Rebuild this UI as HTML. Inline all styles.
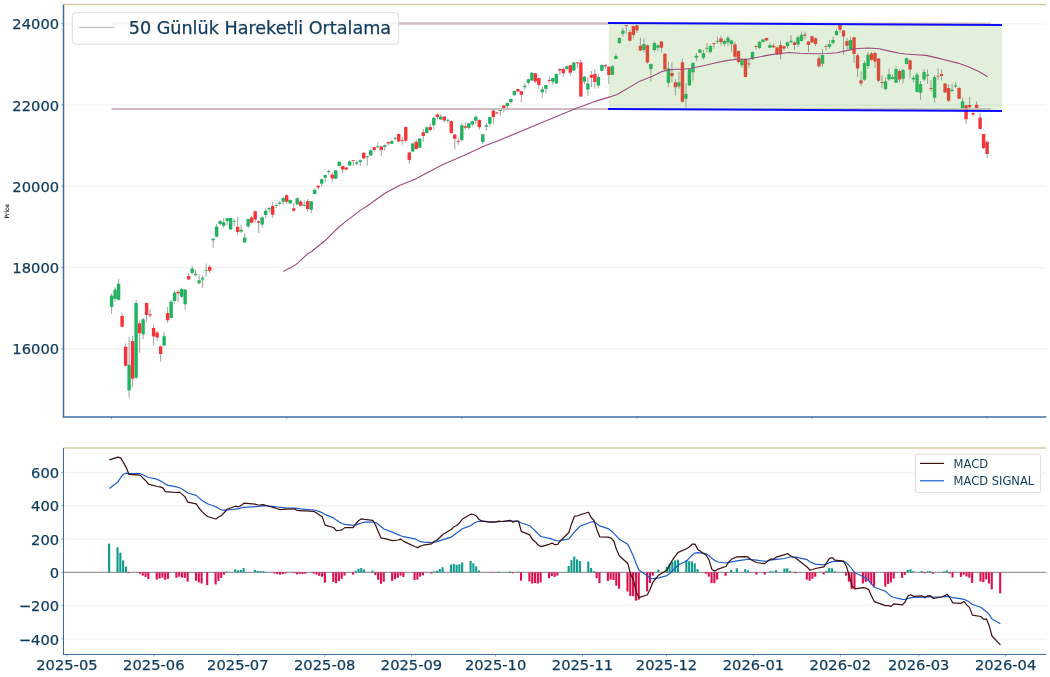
<!DOCTYPE html>
<html lang="tr">
<head>
<meta charset="utf-8">
<title>50 Günlük Hareketli Ortalama</title>
<style>
html,body{margin:0;padding:0;background:#fff;}
body{width:1050px;height:677px;overflow:hidden;font-family:"DejaVu Sans","Liberation Sans",sans-serif;}
svg{display:block;}
</style>
</head>
<body>
<svg width="1050" height="677" viewBox="0 0 1050 677" font-family="'DejaVu Sans', 'Liberation Sans', sans-serif">
<rect width="1050" height="677" fill="#fff"/>
<g id="grid1" stroke="#f4f4f4" stroke-width="1.5">
<line x1="63.5" x2="1046.3" y1="23.7" y2="23.7"/>
<line x1="63.5" x2="1046.3" y1="104.9" y2="104.9"/>
<line x1="63.5" x2="1046.3" y1="186.2" y2="186.2"/>
<line x1="63.5" x2="1046.3" y1="267.5" y2="267.5"/>
<line x1="63.5" x2="1046.3" y1="348.8" y2="348.8"/>
</g>
<g id="wicks" stroke="#808080" stroke-width="0.75">
<line x1="111.60" x2="111.60" y1="293.4" y2="314.0"/>
<line x1="115.10" x2="115.10" y1="287.3" y2="301.9"/>
<line x1="118.60" x2="118.60" y1="279.0" y2="300.5"/>
<line x1="122.11" x2="122.11" y1="312.8" y2="327.4"/>
<line x1="125.61" x2="125.61" y1="343.5" y2="366.7"/>
<line x1="129.11" x2="129.11" y1="336.9" y2="397.8"/>
<line x1="132.61" x2="132.61" y1="335.7" y2="387.0"/>
<line x1="136.11" x2="136.11" y1="299.8" y2="378.5"/>
<line x1="139.62" x2="139.62" y1="320.3" y2="352.9"/>
<line x1="143.12" x2="143.12" y1="318.0" y2="339.2"/>
<line x1="146.62" x2="146.62" y1="302.4" y2="321.5"/>
<line x1="150.12" x2="150.12" y1="309.0" y2="318.0"/>
<line x1="153.62" x2="153.62" y1="324.4" y2="345.6"/>
<line x1="157.13" x2="157.13" y1="331.0" y2="341.1"/>
<line x1="160.63" x2="160.63" y1="345.6" y2="361.7"/>
<line x1="164.13" x2="164.13" y1="332.2" y2="346.3"/>
<line x1="167.63" x2="167.63" y1="306.9" y2="323.2"/>
<line x1="171.13" x2="171.13" y1="300.3" y2="318.4"/>
<line x1="174.64" x2="174.64" y1="290.8" y2="303.8"/>
<line x1="178.14" x2="178.14" y1="289.6" y2="301.9"/>
<line x1="181.64" x2="181.64" y1="287.7" y2="297.9"/>
<line x1="185.14" x2="185.14" y1="289.1" y2="309.7"/>
<line x1="188.64" x2="188.64" y1="273.1" y2="280.2"/>
<line x1="192.15" x2="192.15" y1="265.5" y2="274.3"/>
<line x1="195.65" x2="195.65" y1="269.5" y2="275.9"/>
<line x1="199.15" x2="199.15" y1="274.5" y2="284.2"/>
<line x1="202.65" x2="202.65" y1="275.4" y2="288.0"/>
<line x1="206.15" x2="206.15" y1="263.6" y2="276.6"/>
<line x1="209.66" x2="209.66" y1="264.8" y2="273.1"/>
<line x1="213.16" x2="213.16" y1="238.2" y2="247.9"/>
<line x1="216.66" x2="216.66" y1="224.0" y2="237.1"/>
<line x1="220.16" x2="220.16" y1="220.2" y2="225.6"/>
<line x1="223.66" x2="223.66" y1="218.3" y2="227.9"/>
<line x1="227.17" x2="227.17" y1="218.1" y2="225.1"/>
<line x1="230.67" x2="230.67" y1="217.8" y2="229.8"/>
<line x1="234.17" x2="234.17" y1="218.8" y2="226.1"/>
<line x1="237.67" x2="237.67" y1="217.0" y2="235.0"/>
<line x1="241.17" x2="241.17" y1="224.6" y2="233.2"/>
<line x1="244.68" x2="244.68" y1="233.3" y2="242.9"/>
<line x1="248.18" x2="248.18" y1="218.5" y2="228.2"/>
<line x1="251.68" x2="251.68" y1="215.7" y2="223.5"/>
<line x1="255.18" x2="255.18" y1="210.7" y2="222.5"/>
<line x1="258.68" x2="258.68" y1="220.4" y2="233.0"/>
<line x1="262.19" x2="262.19" y1="216.7" y2="227.5"/>
<line x1="265.69" x2="265.69" y1="208.3" y2="217.8"/>
<line x1="269.19" x2="269.19" y1="207.3" y2="212.0"/>
<line x1="272.69" x2="272.69" y1="202.0" y2="217.8"/>
<line x1="276.19" x2="276.19" y1="203.1" y2="208.0"/>
<line x1="279.70" x2="279.70" y1="201.0" y2="205.7"/>
<line x1="283.20" x2="283.20" y1="197.1" y2="204.7"/>
<line x1="286.70" x2="286.70" y1="194.4" y2="204.1"/>
<line x1="290.20" x2="290.20" y1="199.2" y2="203.9"/>
<line x1="293.70" x2="293.70" y1="203.1" y2="211.8"/>
<line x1="297.21" x2="297.21" y1="197.5" y2="204.7"/>
<line x1="300.71" x2="300.71" y1="200.3" y2="207.0"/>
<line x1="304.21" x2="304.21" y1="200.3" y2="206.6"/>
<line x1="307.71" x2="307.71" y1="198.9" y2="211.5"/>
<line x1="311.21" x2="311.21" y1="201.0" y2="213.3"/>
<line x1="314.72" x2="314.72" y1="188.7" y2="194.1"/>
<line x1="318.22" x2="318.22" y1="185.0" y2="189.2"/>
<line x1="321.72" x2="321.72" y1="178.4" y2="186.6"/>
<line x1="325.22" x2="325.22" y1="174.5" y2="182.1"/>
<line x1="328.72" x2="328.72" y1="169.6" y2="174.5"/>
<line x1="332.23" x2="332.23" y1="172.7" y2="181.5"/>
<line x1="335.73" x2="335.73" y1="170.0" y2="178.9"/>
<line x1="339.23" x2="339.23" y1="161.2" y2="166.5"/>
<line x1="342.73" x2="342.73" y1="165.6" y2="172.7"/>
<line x1="346.23" x2="346.23" y1="166.9" y2="170.3"/>
<line x1="349.74" x2="349.74" y1="160.2" y2="166.1"/>
<line x1="353.24" x2="353.24" y1="159.9" y2="165.8"/>
<line x1="356.74" x2="356.74" y1="160.6" y2="165.4"/>
<line x1="360.24" x2="360.24" y1="159.3" y2="166.1"/>
<line x1="363.74" x2="363.74" y1="152.2" y2="158.9"/>
<line x1="367.25" x2="367.25" y1="156.0" y2="165.6"/>
<line x1="370.75" x2="370.75" y1="149.4" y2="156.0"/>
<line x1="374.25" x2="374.25" y1="146.8" y2="151.5"/>
<line x1="377.75" x2="377.75" y1="142.6" y2="147.8"/>
<line x1="381.25" x2="381.25" y1="145.9" y2="155.7"/>
<line x1="384.76" x2="384.76" y1="144.5" y2="150.6"/>
<line x1="388.26" x2="388.26" y1="141.3" y2="145.7"/>
<line x1="391.76" x2="391.76" y1="139.5" y2="144.0"/>
<line x1="395.26" x2="395.26" y1="137.4" y2="140.3"/>
<line x1="398.76" x2="398.76" y1="133.4" y2="141.9"/>
<line x1="402.27" x2="402.27" y1="136.7" y2="144.8"/>
<line x1="405.77" x2="405.77" y1="126.4" y2="142.7"/>
<line x1="409.27" x2="409.27" y1="151.6" y2="163.6"/>
<line x1="412.77" x2="412.77" y1="142.7" y2="151.9"/>
<line x1="416.27" x2="416.27" y1="140.0" y2="149.7"/>
<line x1="419.78" x2="419.78" y1="138.0" y2="147.9"/>
<line x1="423.28" x2="423.28" y1="129.0" y2="141.8"/>
<line x1="426.78" x2="426.78" y1="126.4" y2="133.6"/>
<line x1="430.28" x2="430.28" y1="123.3" y2="131.1"/>
<line x1="433.78" x2="433.78" y1="117.2" y2="129.8"/>
<line x1="437.29" x2="437.29" y1="113.0" y2="119.3"/>
<line x1="440.79" x2="440.79" y1="114.4" y2="119.9"/>
<line x1="444.29" x2="444.29" y1="116.0" y2="122.8"/>
<line x1="447.79" x2="447.79" y1="119.1" y2="122.8"/>
<line x1="451.29" x2="451.29" y1="120.4" y2="134.0"/>
<line x1="454.80" x2="454.80" y1="134.0" y2="149.5"/>
<line x1="458.30" x2="458.30" y1="137.7" y2="144.8"/>
<line x1="461.80" x2="461.80" y1="123.3" y2="141.6"/>
<line x1="465.30" x2="465.30" y1="122.4" y2="129.6"/>
<line x1="468.80" x2="468.80" y1="122.8" y2="129.6"/>
<line x1="472.31" x2="472.31" y1="120.7" y2="126.2"/>
<line x1="475.81" x2="475.81" y1="115.4" y2="123.8"/>
<line x1="479.31" x2="479.31" y1="119.3" y2="129.6"/>
<line x1="482.81" x2="482.81" y1="133.8" y2="144.2"/>
<line x1="486.31" x2="486.31" y1="123.1" y2="130.6"/>
<line x1="489.82" x2="489.82" y1="116.5" y2="126.6"/>
<line x1="493.32" x2="493.32" y1="109.7" y2="123.8"/>
<line x1="496.82" x2="496.82" y1="111.8" y2="114.1"/>
<line x1="500.32" x2="500.32" y1="109.7" y2="115.8"/>
<line x1="503.82" x2="503.82" y1="105.0" y2="112.7"/>
<line x1="507.33" x2="507.33" y1="102.4" y2="108.5"/>
<line x1="510.83" x2="510.83" y1="98.4" y2="103.6"/>
<line x1="514.33" x2="514.33" y1="90.6" y2="95.6"/>
<line x1="517.83" x2="517.83" y1="88.6" y2="91.9"/>
<line x1="521.33" x2="521.33" y1="90.9" y2="102.4"/>
<line x1="524.84" x2="524.84" y1="83.3" y2="90.3"/>
<line x1="528.34" x2="528.34" y1="78.5" y2="84.6"/>
<line x1="531.84" x2="531.84" y1="72.2" y2="80.9"/>
<line x1="535.34" x2="535.34" y1="72.8" y2="83.0"/>
<line x1="538.84" x2="538.84" y1="77.4" y2="88.8"/>
<line x1="542.35" x2="542.35" y1="86.7" y2="97.4"/>
<line x1="545.85" x2="545.85" y1="84.6" y2="93.5"/>
<line x1="549.35" x2="549.35" y1="76.2" y2="83.0"/>
<line x1="552.85" x2="552.85" y1="77.4" y2="84.8"/>
<line x1="556.35" x2="556.35" y1="73.3" y2="84.0"/>
<line x1="559.86" x2="559.86" y1="68.3" y2="74.9"/>
<line x1="563.36" x2="563.36" y1="67.3" y2="76.7"/>
<line x1="566.86" x2="566.86" y1="65.5" y2="70.4"/>
<line x1="570.36" x2="570.36" y1="64.5" y2="75.7"/>
<line x1="573.86" x2="573.86" y1="62.0" y2="71.0"/>
<line x1="577.37" x2="577.37" y1="62.0" y2="68.3"/>
<line x1="580.87" x2="580.87" y1="59.4" y2="96.9"/>
<line x1="584.37" x2="584.37" y1="76.0" y2="84.4"/>
<line x1="587.87" x2="587.87" y1="77.4" y2="96.1"/>
<line x1="591.37" x2="591.37" y1="71.0" y2="87.2"/>
<line x1="594.88" x2="594.88" y1="69.1" y2="88.6"/>
<line x1="598.38" x2="598.38" y1="74.8" y2="88.4"/>
<line x1="601.88" x2="601.88" y1="63.7" y2="71.4"/>
<line x1="605.38" x2="605.38" y1="63.7" y2="68.4"/>
<line x1="608.88" x2="608.88" y1="65.9" y2="84.0"/>
<line x1="612.39" x2="612.39" y1="64.9" y2="75.2"/>
<line x1="615.89" x2="615.89" y1="53.8" y2="59.3"/>
<line x1="619.39" x2="619.39" y1="37.1" y2="44.1"/>
<line x1="622.89" x2="622.89" y1="28.0" y2="36.7"/>
<line x1="626.39" x2="626.39" y1="25.0" y2="33.5"/>
<line x1="629.90" x2="629.90" y1="29.8" y2="41.3"/>
<line x1="633.40" x2="633.40" y1="25.6" y2="38.6"/>
<line x1="636.90" x2="636.90" y1="25.0" y2="33.0"/>
<line x1="640.40" x2="640.40" y1="37.9" y2="51.2"/>
<line x1="643.90" x2="643.90" y1="38.6" y2="52.6"/>
<line x1="647.41" x2="647.41" y1="44.5" y2="63.7"/>
<line x1="650.91" x2="650.91" y1="63.4" y2="81.7"/>
<line x1="654.41" x2="654.41" y1="41.3" y2="52.2"/>
<line x1="657.91" x2="657.91" y1="44.5" y2="51.2"/>
<line x1="661.41" x2="661.41" y1="40.8" y2="52.6"/>
<line x1="664.92" x2="664.92" y1="53.1" y2="70.4"/>
<line x1="668.42" x2="668.42" y1="61.5" y2="87.1"/>
<line x1="671.92" x2="671.92" y1="62.5" y2="82.2"/>
<line x1="675.42" x2="675.42" y1="79.2" y2="95.5"/>
<line x1="678.92" x2="678.92" y1="71.8" y2="88.8"/>
<line x1="682.43" x2="682.43" y1="58.6" y2="102.8"/>
<line x1="685.93" x2="685.93" y1="83.2" y2="107.7"/>
<line x1="689.43" x2="689.43" y1="68.2" y2="85.9"/>
<line x1="692.93" x2="692.93" y1="62.0" y2="80.7"/>
<line x1="696.43" x2="696.43" y1="53.3" y2="61.1"/>
<line x1="699.94" x2="699.94" y1="49.1" y2="53.3"/>
<line x1="703.44" x2="703.44" y1="49.9" y2="59.8"/>
<line x1="706.94" x2="706.94" y1="43.3" y2="52.5"/>
<line x1="710.44" x2="710.44" y1="44.3" y2="53.3"/>
<line x1="713.94" x2="713.94" y1="42.8" y2="48.8"/>
<line x1="717.45" x2="717.45" y1="36.8" y2="43.9"/>
<line x1="720.95" x2="720.95" y1="36.2" y2="45.7"/>
<line x1="724.45" x2="724.45" y1="39.4" y2="46.2"/>
<line x1="727.95" x2="727.95" y1="35.9" y2="46.4"/>
<line x1="731.45" x2="731.45" y1="39.7" y2="52.0"/>
<line x1="734.96" x2="734.96" y1="42.0" y2="59.8"/>
<line x1="738.46" x2="738.46" y1="50.4" y2="63.5"/>
<line x1="741.96" x2="741.96" y1="57.9" y2="67.4"/>
<line x1="745.46" x2="745.46" y1="58.2" y2="77.1"/>
<line x1="748.96" x2="748.96" y1="59.8" y2="68.0"/>
<line x1="752.47" x2="752.47" y1="51.4" y2="59.8"/>
<line x1="755.97" x2="755.97" y1="45.7" y2="49.5"/>
<line x1="759.47" x2="759.47" y1="41.0" y2="48.8"/>
<line x1="762.97" x2="762.97" y1="38.9" y2="42.5"/>
<line x1="766.47" x2="766.47" y1="37.6" y2="41.0"/>
<line x1="769.98" x2="769.98" y1="42.8" y2="48.1"/>
<line x1="773.48" x2="773.48" y1="43.3" y2="47.8"/>
<line x1="776.98" x2="776.98" y1="46.7" y2="54.8"/>
<line x1="780.48" x2="780.48" y1="40.7" y2="59.3"/>
<line x1="783.98" x2="783.98" y1="45.7" y2="50.9"/>
<line x1="787.49" x2="787.49" y1="41.5" y2="48.5"/>
<line x1="790.99" x2="790.99" y1="35.2" y2="43.3"/>
<line x1="794.49" x2="794.49" y1="41.5" y2="49.9"/>
<line x1="797.99" x2="797.99" y1="35.5" y2="46.7"/>
<line x1="801.49" x2="801.49" y1="31.7" y2="41.5"/>
<line x1="805.00" x2="805.00" y1="31.5" y2="39.4"/>
<line x1="808.50" x2="808.50" y1="41.0" y2="52.0"/>
<line x1="812.00" x2="812.00" y1="35.5" y2="43.0"/>
<line x1="815.50" x2="815.50" y1="37.6" y2="46.0"/>
<line x1="819.00" x2="819.00" y1="55.1" y2="67.4"/>
<line x1="822.51" x2="822.51" y1="49.1" y2="66.9"/>
<line x1="826.01" x2="826.01" y1="44.3" y2="50.9"/>
<line x1="829.51" x2="829.51" y1="39.7" y2="48.8"/>
<line x1="833.01" x2="833.01" y1="36.8" y2="44.6"/>
<line x1="836.51" x2="836.51" y1="29.4" y2="35.9"/>
<line x1="840.02" x2="840.02" y1="24.7" y2="32.6"/>
<line x1="843.52" x2="843.52" y1="30.0" y2="54.8"/>
<line x1="847.02" x2="847.02" y1="38.0" y2="49.3"/>
<line x1="850.52" x2="850.52" y1="36.8" y2="49.9"/>
<line x1="854.02" x2="854.02" y1="36.6" y2="63.0"/>
<line x1="857.53" x2="857.53" y1="53.5" y2="77.1"/>
<line x1="861.03" x2="861.03" y1="71.3" y2="86.0"/>
<line x1="864.53" x2="864.53" y1="60.9" y2="80.8"/>
<line x1="868.03" x2="868.03" y1="52.0" y2="69.0"/>
<line x1="871.53" x2="871.53" y1="52.0" y2="60.6"/>
<line x1="875.04" x2="875.04" y1="51.4" y2="68.0"/>
<line x1="878.54" x2="878.54" y1="57.9" y2="82.3"/>
<line x1="882.04" x2="882.04" y1="75.3" y2="88.1"/>
<line x1="885.54" x2="885.54" y1="77.4" y2="90.4"/>
<line x1="889.04" x2="889.04" y1="68.7" y2="80.8"/>
<line x1="892.55" x2="892.55" y1="74.0" y2="79.9"/>
<line x1="896.05" x2="896.05" y1="66.2" y2="83.0"/>
<line x1="899.55" x2="899.55" y1="69.1" y2="82.5"/>
<line x1="903.05" x2="903.05" y1="68.6" y2="83.3"/>
<line x1="906.55" x2="906.55" y1="57.5" y2="64.5"/>
<line x1="910.06" x2="910.06" y1="59.6" y2="77.8"/>
<line x1="913.56" x2="913.56" y1="75.4" y2="82.7"/>
<line x1="917.06" x2="917.06" y1="72.5" y2="92.4"/>
<line x1="920.56" x2="920.56" y1="80.9" y2="99.8"/>
<line x1="924.06" x2="924.06" y1="69.1" y2="81.4"/>
<line x1="927.57" x2="927.57" y1="69.4" y2="84.0"/>
<line x1="931.07" x2="931.07" y1="80.2" y2="91.4"/>
<line x1="934.57" x2="934.57" y1="75.1" y2="102.4"/>
<line x1="938.07" x2="938.07" y1="68.3" y2="79.9"/>
<line x1="941.57" x2="941.57" y1="69.4" y2="80.4"/>
<line x1="945.08" x2="945.08" y1="83.0" y2="93.0"/>
<line x1="948.58" x2="948.58" y1="84.0" y2="101.9"/>
<line x1="952.08" x2="952.08" y1="83.7" y2="91.9"/>
<line x1="955.58" x2="955.58" y1="82.0" y2="88.2"/>
<line x1="959.08" x2="959.08" y1="86.5" y2="99.2"/>
<line x1="962.59" x2="962.59" y1="97.6" y2="108.4"/>
<line x1="966.09" x2="966.09" y1="104.8" y2="124.2"/>
<line x1="969.59" x2="969.59" y1="97.1" y2="108.2"/>
<line x1="973.09" x2="973.09" y1="112.1" y2="116.7"/>
<line x1="976.59" x2="976.59" y1="101.4" y2="108.2"/>
<line x1="980.10" x2="980.10" y1="112.8" y2="129.3"/>
<line x1="983.60" x2="983.60" y1="133.8" y2="149.0"/>
<line x1="987.10" x2="987.10" y1="140.3" y2="158.1"/>
</g>
<g id="bodies">
<rect x="109.90" y="295.50" width="3.4" height="11.40" rx="0.4" fill="#1fb35f"/>
<rect x="113.40" y="289.60" width="3.4" height="9.50" rx="0.4" fill="#1fb35f"/>
<rect x="116.90" y="283.70" width="3.4" height="16.10" rx="0.4" fill="#1fb35f"/>
<rect x="120.41" y="316.10" width="3.4" height="10.60" rx="0.4" fill="#f73338"/>
<rect x="123.91" y="346.80" width="3.4" height="18.90" rx="0.4" fill="#f73338"/>
<rect x="127.41" y="364.80" width="3.4" height="25.70" rx="0.4" fill="#1fb35f"/>
<rect x="130.91" y="341.10" width="3.4" height="37.60" rx="0.4" fill="#f73338"/>
<rect x="134.41" y="303.10" width="3.4" height="74.70" rx="0.4" fill="#1fb35f"/>
<rect x="137.92" y="323.20" width="3.4" height="10.10" rx="0.4" fill="#f73338"/>
<rect x="141.42" y="319.20" width="3.4" height="15.30" rx="0.4" fill="#1fb35f"/>
<rect x="144.92" y="303.10" width="3.4" height="12.00" rx="0.4" fill="#f73338"/>
<rect x="148.42" y="314.20" width="3.4" height="1.40" rx="0.4" fill="#f73338"/>
<rect x="151.92" y="328.10" width="3.4" height="8.30" rx="0.4" fill="#f73338"/>
<rect x="155.43" y="332.40" width="3.4" height="5.00" rx="0.4" fill="#f73338"/>
<rect x="158.93" y="346.30" width="3.4" height="7.80" rx="0.4" fill="#f73338"/>
<rect x="162.43" y="336.20" width="3.4" height="9.40" rx="0.4" fill="#1fb35f"/>
<rect x="165.93" y="313.00" width="3.4" height="7.30" rx="0.4" fill="#f73338"/>
<rect x="169.43" y="301.40" width="3.4" height="16.60" rx="0.4" fill="#1fb35f"/>
<rect x="172.94" y="292.50" width="3.4" height="8.50" rx="0.4" fill="#1fb35f"/>
<rect x="176.44" y="292.00" width="3.4" height="1.40" rx="0.4" fill="#f73338"/>
<rect x="179.94" y="289.10" width="3.4" height="7.60" rx="0.4" fill="#1fb35f"/>
<rect x="183.44" y="289.60" width="3.4" height="14.70" rx="0.4" fill="#1fb35f"/>
<rect x="186.94" y="275.90" width="3.4" height="3.60" rx="0.4" fill="#f73338"/>
<rect x="190.45" y="268.40" width="3.4" height="4.70" rx="0.4" fill="#1fb35f"/>
<rect x="193.95" y="273.80" width="3.4" height="1.40" rx="0.4" fill="#1fb35f"/>
<rect x="197.45" y="280.20" width="3.4" height="3.00" rx="0.4" fill="#1fb35f"/>
<rect x="200.95" y="277.80" width="3.4" height="1.70" rx="0.4" fill="#1fb35f"/>
<rect x="204.45" y="269.90" width="3.4" height="0.90" rx="0.4" fill="#1fb35f"/>
<rect x="207.96" y="266.70" width="3.4" height="4.00" rx="0.4" fill="#f73338"/>
<rect x="211.46" y="238.70" width="3.4" height="1.60" rx="0.4" fill="#1fb35f"/>
<rect x="214.96" y="226.40" width="3.4" height="10.40" rx="0.4" fill="#1fb35f"/>
<rect x="218.46" y="220.90" width="3.4" height="3.10" rx="0.4" fill="#1fb35f"/>
<rect x="221.96" y="222.30" width="3.4" height="3.50" rx="0.4" fill="#1fb35f"/>
<rect x="225.47" y="218.30" width="3.4" height="2.60" rx="0.4" fill="#1fb35f"/>
<rect x="228.97" y="218.10" width="3.4" height="11.50" rx="0.4" fill="#1fb35f"/>
<rect x="232.47" y="220.90" width="3.4" height="0.90" rx="0.4" fill="#1fb35f"/>
<rect x="235.97" y="226.70" width="3.4" height="5.20" rx="0.4" fill="#f73338"/>
<rect x="239.47" y="229.80" width="3.4" height="1.80" rx="0.4" fill="#1fb35f"/>
<rect x="242.98" y="237.40" width="3.4" height="5.20" rx="0.4" fill="#1fb35f"/>
<rect x="246.48" y="219.00" width="3.4" height="7.50" rx="0.4" fill="#1fb35f"/>
<rect x="249.98" y="217.40" width="3.4" height="5.40" rx="0.4" fill="#f73338"/>
<rect x="253.48" y="211.20" width="3.4" height="8.40" rx="0.4" fill="#f73338"/>
<rect x="256.98" y="221.20" width="3.4" height="1.50" rx="0.4" fill="#f73338"/>
<rect x="260.49" y="217.20" width="3.4" height="7.40" rx="0.4" fill="#1fb35f"/>
<rect x="263.99" y="210.70" width="3.4" height="4.40" rx="0.4" fill="#1fb35f"/>
<rect x="267.49" y="208.10" width="3.4" height="1.30" rx="0.4" fill="#1fb35f"/>
<rect x="270.99" y="205.90" width="3.4" height="8.90" rx="0.4" fill="#f73338"/>
<rect x="274.49" y="204.95" width="3.4" height="0.90" rx="0.4" fill="#1fb35f"/>
<rect x="278.00" y="202.60" width="3.4" height="1.20" rx="0.4" fill="#1fb35f"/>
<rect x="281.50" y="197.90" width="3.4" height="3.90" rx="0.4" fill="#1fb35f"/>
<rect x="285.00" y="195.20" width="3.4" height="6.50" rx="0.4" fill="#f73338"/>
<rect x="288.50" y="200.00" width="3.4" height="3.60" rx="0.4" fill="#1fb35f"/>
<rect x="292.00" y="208.30" width="3.4" height="2.40" rx="0.4" fill="#f73338"/>
<rect x="295.51" y="198.20" width="3.4" height="6.30" rx="0.4" fill="#1fb35f"/>
<rect x="299.01" y="201.50" width="3.4" height="4.20" rx="0.4" fill="#f73338"/>
<rect x="302.51" y="204.90" width="3.4" height="1.00" rx="0.4" fill="#1fb35f"/>
<rect x="306.01" y="201.00" width="3.4" height="7.90" rx="0.4" fill="#f73338"/>
<rect x="309.51" y="201.30" width="3.4" height="8.40" rx="0.4" fill="#1fb35f"/>
<rect x="313.02" y="189.70" width="3.4" height="4.20" rx="0.4" fill="#1fb35f"/>
<rect x="316.52" y="185.80" width="3.4" height="1.60" rx="0.4" fill="#f73338"/>
<rect x="320.02" y="179.20" width="3.4" height="4.50" rx="0.4" fill="#1fb35f"/>
<rect x="323.52" y="175.00" width="3.4" height="2.70" rx="0.4" fill="#1fb35f"/>
<rect x="327.02" y="171.00" width="3.4" height="0.90" rx="0.4" fill="#1fb35f"/>
<rect x="330.53" y="174.50" width="3.4" height="3.90" rx="0.4" fill="#f73338"/>
<rect x="334.03" y="170.30" width="3.4" height="8.40" rx="0.4" fill="#1fb35f"/>
<rect x="337.53" y="161.70" width="3.4" height="4.40" rx="0.4" fill="#1fb35f"/>
<rect x="341.03" y="166.10" width="3.4" height="3.50" rx="0.4" fill="#f73338"/>
<rect x="344.53" y="167.50" width="3.4" height="2.10" rx="0.4" fill="#f73338"/>
<rect x="348.04" y="161.40" width="3.4" height="4.00" rx="0.4" fill="#1fb35f"/>
<rect x="351.54" y="159.95" width="3.4" height="0.90" rx="0.4" fill="#f73338"/>
<rect x="355.04" y="162.30" width="3.4" height="1.40" rx="0.4" fill="#1fb35f"/>
<rect x="358.54" y="160.20" width="3.4" height="1.80" rx="0.4" fill="#1fb35f"/>
<rect x="362.04" y="152.80" width="3.4" height="5.80" rx="0.4" fill="#f73338"/>
<rect x="365.55" y="156.35" width="3.4" height="0.90" rx="0.4" fill="#1fb35f"/>
<rect x="369.05" y="150.20" width="3.4" height="5.30" rx="0.4" fill="#1fb35f"/>
<rect x="372.55" y="147.30" width="3.4" height="2.60" rx="0.4" fill="#f73338"/>
<rect x="376.05" y="146.20" width="3.4" height="1.10" rx="0.4" fill="#1fb35f"/>
<rect x="379.55" y="146.40" width="3.4" height="3.70" rx="0.4" fill="#f73338"/>
<rect x="383.06" y="144.90" width="3.4" height="1.90" rx="0.4" fill="#1fb35f"/>
<rect x="386.56" y="142.00" width="3.4" height="1.40" rx="0.4" fill="#f73338"/>
<rect x="390.06" y="141.10" width="3.4" height="2.60" rx="0.4" fill="#1fb35f"/>
<rect x="393.56" y="137.80" width="3.4" height="0.90" rx="0.4" fill="#1fb35f"/>
<rect x="397.06" y="134.00" width="3.4" height="7.60" rx="0.4" fill="#f73338"/>
<rect x="400.57" y="139.95" width="3.4" height="0.90" rx="0.4" fill="#f73338"/>
<rect x="404.07" y="127.00" width="3.4" height="13.80" rx="0.4" fill="#f73338"/>
<rect x="407.57" y="152.40" width="3.4" height="7.60" rx="0.4" fill="#f73338"/>
<rect x="411.07" y="143.40" width="3.4" height="8.20" rx="0.4" fill="#1fb35f"/>
<rect x="414.57" y="141.80" width="3.4" height="7.20" rx="0.4" fill="#f73338"/>
<rect x="418.08" y="138.50" width="3.4" height="9.20" rx="0.4" fill="#1fb35f"/>
<rect x="421.58" y="132.20" width="3.4" height="3.70" rx="0.4" fill="#f73338"/>
<rect x="425.08" y="127.20" width="3.4" height="5.70" rx="0.4" fill="#1fb35f"/>
<rect x="428.58" y="127.00" width="3.4" height="3.10" rx="0.4" fill="#f73338"/>
<rect x="432.08" y="117.80" width="3.4" height="7.40" rx="0.4" fill="#1fb35f"/>
<rect x="435.59" y="114.40" width="3.4" height="2.60" rx="0.4" fill="#f73338"/>
<rect x="439.09" y="116.50" width="3.4" height="3.10" rx="0.4" fill="#1fb35f"/>
<rect x="442.59" y="116.50" width="3.4" height="4.00" rx="0.4" fill="#f73338"/>
<rect x="446.09" y="119.80" width="3.4" height="0.90" rx="0.4" fill="#1fb35f"/>
<rect x="449.59" y="121.00" width="3.4" height="11.90" rx="0.4" fill="#f73338"/>
<rect x="453.10" y="134.60" width="3.4" height="4.20" rx="0.4" fill="#f73338"/>
<rect x="456.60" y="140.80" width="3.4" height="0.90" rx="0.4" fill="#f73338"/>
<rect x="460.10" y="125.20" width="3.4" height="14.80" rx="0.4" fill="#1fb35f"/>
<rect x="463.60" y="126.20" width="3.4" height="1.50" rx="0.4" fill="#f73338"/>
<rect x="467.10" y="123.30" width="3.4" height="4.70" rx="0.4" fill="#1fb35f"/>
<rect x="470.61" y="121.20" width="3.4" height="3.40" rx="0.4" fill="#1fb35f"/>
<rect x="474.11" y="116.70" width="3.4" height="4.00" rx="0.4" fill="#1fb35f"/>
<rect x="477.61" y="119.90" width="3.4" height="7.30" rx="0.4" fill="#f73338"/>
<rect x="481.11" y="134.30" width="3.4" height="7.80" rx="0.4" fill="#1fb35f"/>
<rect x="484.61" y="125.20" width="3.4" height="1.50" rx="0.4" fill="#1fb35f"/>
<rect x="488.12" y="117.00" width="3.4" height="6.80" rx="0.4" fill="#1fb35f"/>
<rect x="491.62" y="110.50" width="3.4" height="6.50" rx="0.4" fill="#f73338"/>
<rect x="495.12" y="112.50" width="3.4" height="0.90" rx="0.4" fill="#f73338"/>
<rect x="498.62" y="109.90" width="3.4" height="1.10" rx="0.4" fill="#1fb35f"/>
<rect x="502.12" y="105.50" width="3.4" height="2.60" rx="0.4" fill="#f73338"/>
<rect x="505.63" y="103.10" width="3.4" height="3.00" rx="0.4" fill="#1fb35f"/>
<rect x="509.13" y="99.00" width="3.4" height="3.10" rx="0.4" fill="#1fb35f"/>
<rect x="512.63" y="91.10" width="3.4" height="4.20" rx="0.4" fill="#1fb35f"/>
<rect x="516.13" y="89.00" width="3.4" height="2.40" rx="0.4" fill="#f73338"/>
<rect x="519.63" y="91.20" width="3.4" height="3.50" rx="0.4" fill="#f73338"/>
<rect x="523.14" y="85.80" width="3.4" height="1.40" rx="0.4" fill="#1fb35f"/>
<rect x="526.64" y="79.30" width="3.4" height="3.50" rx="0.4" fill="#1fb35f"/>
<rect x="530.14" y="72.80" width="3.4" height="7.80" rx="0.4" fill="#1fb35f"/>
<rect x="533.64" y="73.30" width="3.4" height="8.30" rx="0.4" fill="#f73338"/>
<rect x="537.14" y="78.10" width="3.4" height="6.80" rx="0.4" fill="#f73338"/>
<rect x="540.65" y="89.30" width="3.4" height="2.90" rx="0.4" fill="#1fb35f"/>
<rect x="544.15" y="85.10" width="3.4" height="3.90" rx="0.4" fill="#1fb35f"/>
<rect x="547.65" y="80.10" width="3.4" height="1.00" rx="0.4" fill="#f73338"/>
<rect x="551.15" y="78.10" width="3.4" height="3.60" rx="0.4" fill="#1fb35f"/>
<rect x="554.65" y="74.10" width="3.4" height="9.40" rx="0.4" fill="#1fb35f"/>
<rect x="558.16" y="68.90" width="3.4" height="1.70" rx="0.4" fill="#f73338"/>
<rect x="561.66" y="68.90" width="3.4" height="4.40" rx="0.4" fill="#f73338"/>
<rect x="565.16" y="66.20" width="3.4" height="2.70" rx="0.4" fill="#1fb35f"/>
<rect x="568.66" y="65.20" width="3.4" height="7.60" rx="0.4" fill="#f73338"/>
<rect x="572.16" y="62.60" width="3.4" height="8.00" rx="0.4" fill="#1fb35f"/>
<rect x="575.67" y="62.25" width="3.4" height="0.90" rx="0.4" fill="#f73338"/>
<rect x="579.17" y="62.60" width="3.4" height="34.00" rx="0.4" fill="#f73338"/>
<rect x="582.67" y="76.70" width="3.4" height="5.00" rx="0.4" fill="#1fb35f"/>
<rect x="586.17" y="83.50" width="3.4" height="6.10" rx="0.4" fill="#1fb35f"/>
<rect x="589.67" y="74.90" width="3.4" height="2.90" rx="0.4" fill="#f73338"/>
<rect x="593.18" y="74.10" width="3.4" height="7.90" rx="0.4" fill="#f73338"/>
<rect x="596.68" y="77.00" width="3.4" height="8.60" rx="0.4" fill="#1fb35f"/>
<rect x="600.18" y="64.90" width="3.4" height="5.90" rx="0.4" fill="#1fb35f"/>
<rect x="603.68" y="65.20" width="3.4" height="1.20" rx="0.4" fill="#f73338"/>
<rect x="607.18" y="66.70" width="3.4" height="8.40" rx="0.4" fill="#f73338"/>
<rect x="610.69" y="66.20" width="3.4" height="8.60" rx="0.4" fill="#1fb35f"/>
<rect x="614.19" y="55.90" width="3.4" height="3.00" rx="0.4" fill="#1fb35f"/>
<rect x="617.69" y="37.90" width="3.4" height="5.20" rx="0.4" fill="#1fb35f"/>
<rect x="621.19" y="30.50" width="3.4" height="3.30" rx="0.4" fill="#1fb35f"/>
<rect x="624.69" y="24.95" width="3.4" height="0.90" rx="0.4" fill="#f73338"/>
<rect x="628.20" y="32.00" width="3.4" height="8.80" rx="0.4" fill="#f73338"/>
<rect x="631.70" y="26.10" width="3.4" height="8.80" rx="0.4" fill="#f73338"/>
<rect x="635.20" y="25.30" width="3.4" height="5.20" rx="0.4" fill="#f73338"/>
<rect x="638.70" y="45.70" width="3.4" height="4.70" rx="0.4" fill="#f73338"/>
<rect x="642.20" y="44.10" width="3.4" height="5.90" rx="0.4" fill="#1fb35f"/>
<rect x="645.71" y="45.30" width="3.4" height="17.20" rx="0.4" fill="#f73338"/>
<rect x="649.21" y="64.00" width="3.4" height="4.90" rx="0.4" fill="#1fb35f"/>
<rect x="652.71" y="43.10" width="3.4" height="6.90" rx="0.4" fill="#1fb35f"/>
<rect x="656.21" y="45.30" width="3.4" height="2.50" rx="0.4" fill="#1fb35f"/>
<rect x="659.71" y="41.60" width="3.4" height="6.20" rx="0.4" fill="#f73338"/>
<rect x="663.22" y="53.70" width="3.4" height="15.90" rx="0.4" fill="#f73338"/>
<rect x="666.72" y="68.40" width="3.4" height="14.50" rx="0.4" fill="#1fb35f"/>
<rect x="670.22" y="73.00" width="3.4" height="3.30" rx="0.4" fill="#f73338"/>
<rect x="673.72" y="82.20" width="3.4" height="5.10" rx="0.4" fill="#f73338"/>
<rect x="677.22" y="82.20" width="3.4" height="4.40" rx="0.4" fill="#1fb35f"/>
<rect x="680.73" y="62.20" width="3.4" height="39.60" rx="0.4" fill="#f73338"/>
<rect x="684.23" y="94.00" width="3.4" height="4.70" rx="0.4" fill="#1fb35f"/>
<rect x="687.73" y="69.30" width="3.4" height="16.10" rx="0.4" fill="#1fb35f"/>
<rect x="691.23" y="63.00" width="3.4" height="9.30" rx="0.4" fill="#1fb35f"/>
<rect x="694.73" y="55.80" width="3.4" height="1.90" rx="0.4" fill="#1fb35f"/>
<rect x="698.24" y="49.50" width="3.4" height="3.20" rx="0.4" fill="#1fb35f"/>
<rect x="701.74" y="53.30" width="3.4" height="4.40" rx="0.4" fill="#1fb35f"/>
<rect x="705.24" y="47.80" width="3.4" height="1.00" rx="0.4" fill="#1fb35f"/>
<rect x="708.74" y="46.00" width="3.4" height="6.00" rx="0.4" fill="#1fb35f"/>
<rect x="712.24" y="43.00" width="3.4" height="0.90" rx="0.4" fill="#f73338"/>
<rect x="715.75" y="40.70" width="3.4" height="1.00" rx="0.4" fill="#1fb35f"/>
<rect x="719.25" y="38.30" width="3.4" height="3.90" rx="0.4" fill="#f73338"/>
<rect x="722.75" y="41.00" width="3.4" height="2.90" rx="0.4" fill="#1fb35f"/>
<rect x="726.25" y="37.80" width="3.4" height="4.70" rx="0.4" fill="#1fb35f"/>
<rect x="729.75" y="40.40" width="3.4" height="3.50" rx="0.4" fill="#1fb35f"/>
<rect x="733.26" y="44.30" width="3.4" height="12.40" rx="0.4" fill="#f73338"/>
<rect x="736.76" y="50.90" width="3.4" height="11.00" rx="0.4" fill="#f73338"/>
<rect x="740.26" y="59.60" width="3.4" height="5.70" rx="0.4" fill="#1fb35f"/>
<rect x="743.76" y="59.00" width="3.4" height="17.90" rx="0.4" fill="#f73338"/>
<rect x="747.26" y="63.50" width="3.4" height="1.00" rx="0.4" fill="#f73338"/>
<rect x="750.77" y="52.00" width="3.4" height="7.30" rx="0.4" fill="#1fb35f"/>
<rect x="754.27" y="46.00" width="3.4" height="1.00" rx="0.4" fill="#f73338"/>
<rect x="757.77" y="41.70" width="3.4" height="6.40" rx="0.4" fill="#1fb35f"/>
<rect x="761.27" y="39.40" width="3.4" height="2.60" rx="0.4" fill="#1fb35f"/>
<rect x="764.77" y="38.00" width="3.4" height="2.60" rx="0.4" fill="#f73338"/>
<rect x="768.28" y="45.10" width="3.4" height="2.70" rx="0.4" fill="#1fb35f"/>
<rect x="771.78" y="45.70" width="3.4" height="1.50" rx="0.4" fill="#f73338"/>
<rect x="775.28" y="47.20" width="3.4" height="7.40" rx="0.4" fill="#f73338"/>
<rect x="778.78" y="44.90" width="3.4" height="9.70" rx="0.4" fill="#f73338"/>
<rect x="782.28" y="46.20" width="3.4" height="2.40" rx="0.4" fill="#f73338"/>
<rect x="785.79" y="42.20" width="3.4" height="4.00" rx="0.4" fill="#1fb35f"/>
<rect x="789.29" y="40.70" width="3.4" height="1.50" rx="0.4" fill="#1fb35f"/>
<rect x="792.79" y="42.20" width="3.4" height="2.70" rx="0.4" fill="#f73338"/>
<rect x="796.29" y="37.30" width="3.4" height="7.30" rx="0.4" fill="#1fb35f"/>
<rect x="799.79" y="34.70" width="3.4" height="6.30" rx="0.4" fill="#1fb35f"/>
<rect x="803.30" y="34.50" width="3.4" height="1.20" rx="0.4" fill="#f73338"/>
<rect x="806.80" y="41.50" width="3.4" height="3.60" rx="0.4" fill="#f73338"/>
<rect x="810.30" y="36.20" width="3.4" height="6.30" rx="0.4" fill="#f73338"/>
<rect x="813.80" y="38.30" width="3.4" height="5.60" rx="0.4" fill="#f73338"/>
<rect x="817.30" y="58.20" width="3.4" height="8.20" rx="0.4" fill="#f73338"/>
<rect x="820.81" y="55.10" width="3.4" height="8.60" rx="0.4" fill="#1fb35f"/>
<rect x="824.31" y="45.90" width="3.4" height="0.90" rx="0.4" fill="#f73338"/>
<rect x="827.81" y="44.10" width="3.4" height="2.60" rx="0.4" fill="#1fb35f"/>
<rect x="831.31" y="39.90" width="3.4" height="3.10" rx="0.4" fill="#1fb35f"/>
<rect x="834.81" y="31.00" width="3.4" height="4.00" rx="0.4" fill="#1fb35f"/>
<rect x="838.32" y="25.00" width="3.4" height="4.70" rx="0.4" fill="#f73338"/>
<rect x="841.82" y="30.50" width="3.4" height="6.10" rx="0.4" fill="#f73338"/>
<rect x="845.32" y="41.00" width="3.4" height="4.70" rx="0.4" fill="#f73338"/>
<rect x="848.82" y="40.10" width="3.4" height="9.40" rx="0.4" fill="#1fb35f"/>
<rect x="852.32" y="37.30" width="3.4" height="16.70" rx="0.4" fill="#f73338"/>
<rect x="855.83" y="55.30" width="3.4" height="13.10" rx="0.4" fill="#f73338"/>
<rect x="859.33" y="80.20" width="3.4" height="3.20" rx="0.4" fill="#f73338"/>
<rect x="862.83" y="63.00" width="3.4" height="16.70" rx="0.4" fill="#1fb35f"/>
<rect x="866.33" y="54.60" width="3.4" height="11.50" rx="0.4" fill="#1fb35f"/>
<rect x="869.83" y="53.30" width="3.4" height="6.70" rx="0.4" fill="#f73338"/>
<rect x="873.34" y="53.00" width="3.4" height="8.60" rx="0.4" fill="#f73338"/>
<rect x="876.84" y="58.60" width="3.4" height="22.20" rx="0.4" fill="#f73338"/>
<rect x="880.34" y="82.00" width="3.4" height="0.90" rx="0.4" fill="#f73338"/>
<rect x="883.84" y="81.30" width="3.4" height="7.80" rx="0.4" fill="#1fb35f"/>
<rect x="887.34" y="74.30" width="3.4" height="5.20" rx="0.4" fill="#1fb35f"/>
<rect x="890.85" y="77.10" width="3.4" height="1.80" rx="0.4" fill="#1fb35f"/>
<rect x="894.35" y="69.10" width="3.4" height="13.60" rx="0.4" fill="#1fb35f"/>
<rect x="897.85" y="71.00" width="3.4" height="8.60" rx="0.4" fill="#f73338"/>
<rect x="901.35" y="69.90" width="3.4" height="8.90" rx="0.4" fill="#1fb35f"/>
<rect x="904.85" y="58.20" width="3.4" height="5.90" rx="0.4" fill="#1fb35f"/>
<rect x="908.36" y="60.30" width="3.4" height="9.10" rx="0.4" fill="#f73338"/>
<rect x="911.86" y="77.80" width="3.4" height="1.80" rx="0.4" fill="#1fb35f"/>
<rect x="915.36" y="74.60" width="3.4" height="17.30" rx="0.4" fill="#1fb35f"/>
<rect x="918.86" y="84.00" width="3.4" height="8.70" rx="0.4" fill="#1fb35f"/>
<rect x="922.36" y="72.00" width="3.4" height="7.60" rx="0.4" fill="#1fb35f"/>
<rect x="925.87" y="74.80" width="3.4" height="1.10" rx="0.4" fill="#1fb35f"/>
<rect x="929.37" y="87.90" width="3.4" height="1.10" rx="0.4" fill="#f73338"/>
<rect x="932.87" y="76.90" width="3.4" height="20.80" rx="0.4" fill="#1fb35f"/>
<rect x="936.37" y="75.65" width="3.4" height="0.90" rx="0.4" fill="#f73338"/>
<rect x="939.87" y="73.90" width="3.4" height="2.10" rx="0.4" fill="#f73338"/>
<rect x="943.38" y="83.50" width="3.4" height="8.90" rx="0.4" fill="#f73338"/>
<rect x="946.88" y="87.90" width="3.4" height="12.90" rx="0.4" fill="#f73338"/>
<rect x="950.38" y="89.80" width="3.4" height="1.30" rx="0.4" fill="#1fb35f"/>
<rect x="953.88" y="85.30" width="3.4" height="1.20" rx="0.4" fill="#1fb35f"/>
<rect x="957.38" y="87.90" width="3.4" height="10.80" rx="0.4" fill="#f73338"/>
<rect x="960.89" y="101.20" width="3.4" height="7.00" rx="0.4" fill="#1fb35f"/>
<rect x="964.39" y="105.30" width="3.4" height="14.00" rx="0.4" fill="#f73338"/>
<rect x="967.89" y="105.10" width="3.4" height="2.10" rx="0.4" fill="#f73338"/>
<rect x="971.39" y="113.10" width="3.4" height="1.50" rx="0.4" fill="#f73338"/>
<rect x="974.89" y="104.80" width="3.4" height="3.10" rx="0.4" fill="#f73338"/>
<rect x="978.40" y="117.50" width="3.4" height="11.40" rx="0.4" fill="#f73338"/>
<rect x="981.90" y="134.10" width="3.4" height="13.80" rx="0.4" fill="#f73338"/>
<rect x="985.40" y="141.70" width="3.4" height="12.40" rx="0.4" fill="#f73338"/>
</g>
<g stroke="#cfbcbf">
<line x1="111.6" x2="608.5" y1="23.45" y2="23.45" stroke-width="2.4"/>
<line x1="111.6" x2="608.5" y1="109.05" y2="109.05" stroke-width="2.0"/>
</g>
<g stroke="#d9c6c0" stroke-width="1.6">
<line x1="608.5" x2="991" y1="23.3" y2="23.3"/>
<line x1="608.5" x2="991" y1="109.0" y2="109.0"/>
</g>
<polygon points="608.8,23 1002,25 1002,111 608.8,109" fill="#70ad47" fill-opacity="0.2"/>
<g stroke="#0000ff" stroke-width="2.0" stroke-opacity="0.95">
<line x1="608" x2="1002" y1="23.0" y2="25.05"/>
<line x1="608" x2="1002" y1="108.9" y2="110.9"/>
</g>
<polyline points="283.2,271.4 293.6,266.1 296.9,263.8 307.6,253.8 311.6,251.5 325.5,240.3 338.8,227.0 344.2,222.6 360.1,210.6 368.1,205.3 385.0,193.3 399.3,185.5 415.0,179.2 442.4,164.7 463.3,155.8 484.3,146.0 500.0,140.0 548.7,119.7 577.0,108.1 595.0,101.4 609.8,96.9 617.1,94.4 624.5,90.3 631.9,85.9 639.3,81.4 646.7,78.5 654.1,75.5 661.4,71.8 668.8,69.9 676.2,69.3 683.6,69.2 691.0,68.2 698.4,66.7 705.5,65.3 716.0,62.7 726.4,60.6 736.9,59.3 747.4,59.3 757.9,57.2 768.3,55.1 778.8,53.5 789.3,52.5 799.8,53.3 805.5,53.5 816.0,53.7 826.4,53.5 836.9,52.7 847.4,50.4 857.9,48.5 868.3,48.0 878.8,48.8 889.3,51.1 899.8,53.3 905.5,54.0 916.0,54.7 926.4,55.4 936.9,57.9 947.4,60.5 957.9,63.1 968.3,66.8 978.8,71.5 987.7,76.7" fill="none" stroke="#9e4a80" stroke-width="1.1" stroke-linejoin="round"/>
<line x1="63.5" x2="1046.3" y1="4.4" y2="4.4" stroke="#d8caa3" stroke-width="1.5"/>
<line x1="63.5" x2="63.5" y1="4.4" y2="417.59999999999997" stroke="#3e6f9f" stroke-width="1.5"/>
<line x1="62.8" x2="1046.3" y1="416.9" y2="416.9" stroke="#3e6f9f" stroke-width="1.5"/>
<g stroke="#3e6f9f" stroke-width="0.6">
<line x1="111.6" x2="111.6" y1="416.9" y2="419.2"/>
<line x1="286.7" x2="286.7" y1="416.9" y2="419.2"/>
<line x1="461.8" x2="461.8" y1="416.9" y2="419.2"/>
<line x1="636.9" x2="636.9" y1="416.9" y2="419.2"/>
<line x1="812.0" x2="812.0" y1="416.9" y2="419.2"/>
<line x1="987.1" x2="987.1" y1="416.9" y2="419.2"/>
<line x1="61.2" x2="63.5" y1="23.7" y2="23.7"/>
<line x1="61.2" x2="63.5" y1="104.9" y2="104.9"/>
<line x1="61.2" x2="63.5" y1="186.2" y2="186.2"/>
<line x1="61.2" x2="63.5" y1="267.5" y2="267.5"/>
<line x1="61.2" x2="63.5" y1="348.8" y2="348.8"/>
</g>
<g fill="#0d3b5e" stroke="#0d3b5e" stroke-width="0.25" font-size="14.7px" text-anchor="end">
<text x="59.1" y="29.4">24000</text>
<text x="59.1" y="110.6">22000</text>
<text x="59.1" y="191.8">20000</text>
<text x="59.1" y="273.1">18000</text>
<text x="59.1" y="354.4">16000</text>
</g>
<text transform="translate(9.4,211.3) rotate(-90)" font-size="5.8px" fill="#1a1a1a" stroke="#1a1a1a" stroke-width="0.15" text-anchor="middle">Price</text>
<rect x="72.3" y="12.7" width="326.4" height="31.5" rx="3" fill="#fff" fill-opacity="0.8" stroke="#d9d9d9" stroke-width="0.9"/>
<line x1="79.2" x2="114.2" y1="27.4" y2="27.4" stroke="#aeabac" stroke-width="0.9"/>
<text x="128.7" y="33.6" font-size="17.6px" fill="#0d3b5e" stroke="#0d3b5e" stroke-width="0.25">50 Günlük Hareketli Ortalama</text>
<g id="grid2" stroke="#f4f4f4" stroke-width="1.5">
<line x1="63.5" x2="1046.3" y1="472.4" y2="472.4"/>
<line x1="63.5" x2="1046.3" y1="505.7" y2="505.7"/>
<line x1="63.5" x2="1046.3" y1="539.0" y2="539.0"/>
<line x1="63.5" x2="1046.3" y1="605.6" y2="605.6"/>
<line x1="63.5" x2="1046.3" y1="638.9" y2="638.9"/>
</g>
<line x1="63.5" x2="1046.3" y1="572.3" y2="572.3" stroke="#808080" stroke-width="1.0"/>
<g id="bars">
<rect x="108.08" y="543.7" width="2.1" height="28.6" fill="#0f9a8c"/>
<rect x="116.49" y="547.3" width="2.1" height="25.0" fill="#0f9a8c"/>
<rect x="119.29" y="552.6" width="2.1" height="19.7" fill="#0f9a8c"/>
<rect x="122.09" y="560.4" width="2.1" height="11.9" fill="#0f9a8c"/>
<rect x="124.89" y="566.7" width="2.1" height="5.6" fill="#0f9a8c"/>
<rect x="127.69" y="572.3" width="2.1" height="0.8" fill="#dd0f4f"/>
<rect x="138.90" y="572.3" width="2.1" height="1.4" fill="#dd0f4f"/>
<rect x="141.70" y="572.3" width="2.1" height="3.3" fill="#dd0f4f"/>
<rect x="144.51" y="572.3" width="2.1" height="4.6" fill="#dd0f4f"/>
<rect x="147.31" y="572.3" width="2.1" height="6.7" fill="#dd0f4f"/>
<rect x="155.71" y="572.3" width="2.1" height="7.3" fill="#dd0f4f"/>
<rect x="158.52" y="572.3" width="2.1" height="6.2" fill="#dd0f4f"/>
<rect x="161.32" y="572.3" width="2.1" height="5.4" fill="#dd0f4f"/>
<rect x="164.12" y="572.3" width="2.1" height="7.5" fill="#dd0f4f"/>
<rect x="166.92" y="572.3" width="2.1" height="6.5" fill="#dd0f4f"/>
<rect x="175.33" y="572.3" width="2.1" height="5.6" fill="#dd0f4f"/>
<rect x="178.13" y="572.3" width="2.1" height="4.4" fill="#dd0f4f"/>
<rect x="180.93" y="572.3" width="2.1" height="5.2" fill="#dd0f4f"/>
<rect x="183.73" y="572.3" width="2.1" height="5.6" fill="#dd0f4f"/>
<rect x="186.54" y="572.3" width="2.1" height="9.3" fill="#dd0f4f"/>
<rect x="194.94" y="572.3" width="2.1" height="8.4" fill="#dd0f4f"/>
<rect x="197.74" y="572.3" width="2.1" height="10.1" fill="#dd0f4f"/>
<rect x="200.55" y="572.3" width="2.1" height="11.2" fill="#dd0f4f"/>
<rect x="206.15" y="572.3" width="2.1" height="12.8" fill="#dd0f4f"/>
<rect x="214.56" y="572.3" width="2.1" height="12.2" fill="#dd0f4f"/>
<rect x="217.36" y="572.3" width="2.1" height="8.6" fill="#dd0f4f"/>
<rect x="220.16" y="572.3" width="2.1" height="5.6" fill="#dd0f4f"/>
<rect x="222.96" y="572.3" width="2.1" height="2.3" fill="#dd0f4f"/>
<rect x="225.76" y="571.6" width="2.1" height="0.7" fill="#0f9a8c"/>
<rect x="234.17" y="569.3" width="2.1" height="3.0" fill="#0f9a8c"/>
<rect x="236.97" y="570.4" width="2.1" height="1.9" fill="#0f9a8c"/>
<rect x="239.77" y="569.9" width="2.1" height="2.4" fill="#0f9a8c"/>
<rect x="242.58" y="568.1" width="2.1" height="4.2" fill="#0f9a8c"/>
<rect x="253.78" y="569.9" width="2.1" height="2.4" fill="#0f9a8c"/>
<rect x="256.59" y="570.9" width="2.1" height="1.4" fill="#0f9a8c"/>
<rect x="259.39" y="571.1" width="2.1" height="1.2" fill="#0f9a8c"/>
<rect x="262.19" y="571.2" width="2.1" height="1.1" fill="#0f9a8c"/>
<rect x="264.99" y="572.0" width="2.1" height="0.3" fill="#0f9a8c"/>
<rect x="273.40" y="572.3" width="2.1" height="1.2" fill="#dd0f4f"/>
<rect x="276.20" y="572.3" width="2.1" height="1.8" fill="#dd0f4f"/>
<rect x="279.00" y="572.3" width="2.1" height="2.3" fill="#dd0f4f"/>
<rect x="281.80" y="572.3" width="2.1" height="1.8" fill="#dd0f4f"/>
<rect x="284.61" y="572.3" width="2.1" height="1.2" fill="#dd0f4f"/>
<rect x="293.01" y="572.3" width="2.1" height="0.7" fill="#dd0f4f"/>
<rect x="295.81" y="572.3" width="2.1" height="2.1" fill="#dd0f4f"/>
<rect x="298.62" y="572.3" width="2.1" height="1.8" fill="#dd0f4f"/>
<rect x="301.42" y="572.3" width="2.1" height="1.8" fill="#dd0f4f"/>
<rect x="304.22" y="572.3" width="2.1" height="1.5" fill="#dd0f4f"/>
<rect x="312.63" y="572.3" width="2.1" height="1.4" fill="#dd0f4f"/>
<rect x="315.43" y="572.3" width="2.1" height="2.3" fill="#dd0f4f"/>
<rect x="318.23" y="572.3" width="2.1" height="3.5" fill="#dd0f4f"/>
<rect x="321.03" y="572.3" width="2.1" height="4.4" fill="#dd0f4f"/>
<rect x="323.83" y="572.3" width="2.1" height="10.4" fill="#dd0f4f"/>
<rect x="332.24" y="572.3" width="2.1" height="9.6" fill="#dd0f4f"/>
<rect x="335.04" y="572.3" width="2.1" height="10.9" fill="#dd0f4f"/>
<rect x="337.84" y="572.3" width="2.1" height="8.8" fill="#dd0f4f"/>
<rect x="340.65" y="572.3" width="2.1" height="6.5" fill="#dd0f4f"/>
<rect x="343.45" y="572.3" width="2.1" height="3.3" fill="#dd0f4f"/>
<rect x="351.85" y="572.3" width="2.1" height="2.3" fill="#dd0f4f"/>
<rect x="354.66" y="570.9" width="2.1" height="1.4" fill="#0f9a8c"/>
<rect x="357.46" y="568.8" width="2.1" height="3.5" fill="#0f9a8c"/>
<rect x="360.26" y="568.1" width="2.1" height="4.2" fill="#0f9a8c"/>
<rect x="363.06" y="569.5" width="2.1" height="2.8" fill="#0f9a8c"/>
<rect x="371.47" y="570.6" width="2.1" height="1.7" fill="#0f9a8c"/>
<rect x="374.27" y="572.3" width="2.1" height="2.8" fill="#dd0f4f"/>
<rect x="377.07" y="572.3" width="2.1" height="7.5" fill="#dd0f4f"/>
<rect x="379.87" y="572.3" width="2.1" height="11.5" fill="#dd0f4f"/>
<rect x="382.68" y="572.3" width="2.1" height="9.4" fill="#dd0f4f"/>
<rect x="391.08" y="572.3" width="2.1" height="8.6" fill="#dd0f4f"/>
<rect x="393.88" y="572.3" width="2.1" height="7.0" fill="#dd0f4f"/>
<rect x="396.69" y="572.3" width="2.1" height="5.4" fill="#dd0f4f"/>
<rect x="399.49" y="572.3" width="2.1" height="3.3" fill="#dd0f4f"/>
<rect x="402.29" y="572.3" width="2.1" height="4.7" fill="#dd0f4f"/>
<rect x="413.50" y="572.3" width="2.1" height="7.7" fill="#dd0f4f"/>
<rect x="416.30" y="572.3" width="2.1" height="7.3" fill="#dd0f4f"/>
<rect x="419.10" y="572.3" width="2.1" height="4.4" fill="#dd0f4f"/>
<rect x="421.90" y="572.3" width="2.1" height="3.0" fill="#dd0f4f"/>
<rect x="430.31" y="572.3" width="2.1" height="1.2" fill="#dd0f4f"/>
<rect x="433.11" y="571.4" width="2.1" height="0.9" fill="#0f9a8c"/>
<rect x="435.91" y="570.7" width="2.1" height="1.6" fill="#0f9a8c"/>
<rect x="438.72" y="569.0" width="2.1" height="3.3" fill="#0f9a8c"/>
<rect x="441.52" y="567.2" width="2.1" height="5.1" fill="#0f9a8c"/>
<rect x="449.92" y="564.6" width="2.1" height="7.7" fill="#0f9a8c"/>
<rect x="452.73" y="563.9" width="2.1" height="8.4" fill="#0f9a8c"/>
<rect x="455.53" y="564.8" width="2.1" height="7.5" fill="#0f9a8c"/>
<rect x="458.33" y="564.3" width="2.1" height="8.0" fill="#0f9a8c"/>
<rect x="461.13" y="562.5" width="2.1" height="9.8" fill="#0f9a8c"/>
<rect x="469.54" y="561.0" width="2.1" height="11.3" fill="#0f9a8c"/>
<rect x="472.34" y="563.3" width="2.1" height="9.0" fill="#0f9a8c"/>
<rect x="475.14" y="566.4" width="2.1" height="5.9" fill="#0f9a8c"/>
<rect x="477.94" y="570.4" width="2.1" height="1.9" fill="#0f9a8c"/>
<rect x="489.15" y="572.3" width="2.1" height="0.4" fill="#dd0f4f"/>
<rect x="491.95" y="572.3" width="2.1" height="0.4" fill="#dd0f4f"/>
<rect x="497.56" y="571.7" width="2.1" height="0.6" fill="#0f9a8c"/>
<rect x="508.77" y="571.4" width="2.1" height="0.9" fill="#0f9a8c"/>
<rect x="511.57" y="572.3" width="2.1" height="1.0" fill="#dd0f4f"/>
<rect x="517.17" y="571.7" width="2.1" height="0.6" fill="#0f9a8c"/>
<rect x="519.97" y="572.3" width="2.1" height="8.4" fill="#dd0f4f"/>
<rect x="528.38" y="572.3" width="2.1" height="9.1" fill="#dd0f4f"/>
<rect x="531.18" y="572.3" width="2.1" height="11.2" fill="#dd0f4f"/>
<rect x="533.98" y="572.3" width="2.1" height="10.7" fill="#dd0f4f"/>
<rect x="536.79" y="572.3" width="2.1" height="11.2" fill="#dd0f4f"/>
<rect x="539.59" y="572.3" width="2.1" height="10.1" fill="#dd0f4f"/>
<rect x="547.99" y="572.3" width="2.1" height="5.9" fill="#dd0f4f"/>
<rect x="550.80" y="572.3" width="2.1" height="3.8" fill="#dd0f4f"/>
<rect x="553.60" y="572.3" width="2.1" height="4.6" fill="#dd0f4f"/>
<rect x="556.40" y="572.3" width="2.1" height="3.3" fill="#dd0f4f"/>
<rect x="567.61" y="566.0" width="2.1" height="6.3" fill="#0f9a8c"/>
<rect x="570.41" y="560.2" width="2.1" height="12.1" fill="#0f9a8c"/>
<rect x="573.21" y="556.5" width="2.1" height="15.8" fill="#0f9a8c"/>
<rect x="576.01" y="559.4" width="2.1" height="12.9" fill="#0f9a8c"/>
<rect x="578.82" y="561.0" width="2.1" height="11.3" fill="#0f9a8c"/>
<rect x="587.22" y="561.5" width="2.1" height="10.8" fill="#0f9a8c"/>
<rect x="590.02" y="568.1" width="2.1" height="4.2" fill="#0f9a8c"/>
<rect x="592.83" y="571.2" width="2.1" height="1.1" fill="#0f9a8c"/>
<rect x="595.63" y="572.3" width="2.1" height="5.9" fill="#dd0f4f"/>
<rect x="598.43" y="572.3" width="2.1" height="10.9" fill="#dd0f4f"/>
<rect x="606.84" y="572.3" width="2.1" height="8.6" fill="#dd0f4f"/>
<rect x="609.64" y="572.3" width="2.1" height="7.3" fill="#dd0f4f"/>
<rect x="612.44" y="572.3" width="2.1" height="7.7" fill="#dd0f4f"/>
<rect x="615.24" y="572.3" width="2.1" height="13.3" fill="#dd0f4f"/>
<rect x="618.04" y="572.3" width="2.1" height="16.4" fill="#dd0f4f"/>
<rect x="626.45" y="572.3" width="2.1" height="19.2" fill="#dd0f4f"/>
<rect x="629.25" y="572.3" width="2.1" height="23.8" fill="#dd0f4f"/>
<rect x="632.05" y="572.3" width="2.1" height="23.8" fill="#dd0f4f"/>
<rect x="634.86" y="572.3" width="2.1" height="28.3" fill="#dd0f4f"/>
<rect x="637.66" y="572.3" width="2.1" height="27.4" fill="#dd0f4f"/>
<rect x="646.06" y="572.3" width="2.1" height="19.0" fill="#dd0f4f"/>
<rect x="648.87" y="572.3" width="2.1" height="10.7" fill="#dd0f4f"/>
<rect x="651.67" y="572.3" width="2.1" height="3.3" fill="#dd0f4f"/>
<rect x="657.27" y="569.6" width="2.1" height="2.6" fill="#0f9a8c"/>
<rect x="665.68" y="566.7" width="2.1" height="5.6" fill="#0f9a8c"/>
<rect x="668.48" y="563.6" width="2.1" height="8.7" fill="#0f9a8c"/>
<rect x="671.28" y="561.5" width="2.1" height="10.8" fill="#0f9a8c"/>
<rect x="674.08" y="560.4" width="2.1" height="11.9" fill="#0f9a8c"/>
<rect x="676.89" y="559.7" width="2.1" height="12.6" fill="#0f9a8c"/>
<rect x="685.29" y="560.1" width="2.1" height="12.2" fill="#0f9a8c"/>
<rect x="688.09" y="561.2" width="2.1" height="11.1" fill="#0f9a8c"/>
<rect x="690.90" y="561.5" width="2.1" height="10.8" fill="#0f9a8c"/>
<rect x="693.70" y="563.3" width="2.1" height="9.0" fill="#0f9a8c"/>
<rect x="696.50" y="569.1" width="2.1" height="3.2" fill="#0f9a8c"/>
<rect x="704.91" y="572.3" width="2.1" height="1.4" fill="#dd0f4f"/>
<rect x="707.71" y="572.3" width="2.1" height="4.4" fill="#dd0f4f"/>
<rect x="710.51" y="572.3" width="2.1" height="10.9" fill="#dd0f4f"/>
<rect x="713.31" y="572.3" width="2.1" height="10.9" fill="#dd0f4f"/>
<rect x="716.11" y="572.3" width="2.1" height="7.3" fill="#dd0f4f"/>
<rect x="724.52" y="572.3" width="2.1" height="3.5" fill="#dd0f4f"/>
<rect x="730.12" y="569.9" width="2.1" height="2.4" fill="#0f9a8c"/>
<rect x="735.73" y="568.3" width="2.1" height="4.0" fill="#0f9a8c"/>
<rect x="744.13" y="569.1" width="2.1" height="3.2" fill="#0f9a8c"/>
<rect x="746.94" y="570.4" width="2.1" height="1.9" fill="#0f9a8c"/>
<rect x="749.74" y="572.3" width="2.1" height="0.4" fill="#dd0f4f"/>
<rect x="755.34" y="572.3" width="2.1" height="2.3" fill="#dd0f4f"/>
<rect x="763.75" y="572.3" width="2.1" height="2.3" fill="#dd0f4f"/>
<rect x="769.35" y="571.2" width="2.1" height="1.1" fill="#0f9a8c"/>
<rect x="772.15" y="571.6" width="2.1" height="0.7" fill="#0f9a8c"/>
<rect x="774.96" y="570.2" width="2.1" height="2.1" fill="#0f9a8c"/>
<rect x="783.36" y="568.5" width="2.1" height="3.8" fill="#0f9a8c"/>
<rect x="786.16" y="568.3" width="2.1" height="4.0" fill="#0f9a8c"/>
<rect x="788.97" y="571.1" width="2.1" height="1.2" fill="#0f9a8c"/>
<rect x="794.57" y="572.3" width="2.1" height="1.0" fill="#dd0f4f"/>
<rect x="805.78" y="572.3" width="2.1" height="7.3" fill="#dd0f4f"/>
<rect x="808.58" y="572.3" width="2.1" height="8.4" fill="#dd0f4f"/>
<rect x="811.38" y="572.3" width="2.1" height="6.5" fill="#dd0f4f"/>
<rect x="814.18" y="572.3" width="2.1" height="4.4" fill="#dd0f4f"/>
<rect x="822.59" y="572.3" width="2.1" height="2.1" fill="#dd0f4f"/>
<rect x="825.39" y="570.9" width="2.1" height="1.4" fill="#0f9a8c"/>
<rect x="828.19" y="568.1" width="2.1" height="4.2" fill="#0f9a8c"/>
<rect x="831.00" y="568.3" width="2.1" height="4.0" fill="#0f9a8c"/>
<rect x="833.80" y="571.2" width="2.1" height="1.1" fill="#0f9a8c"/>
<rect x="842.20" y="572.0" width="2.1" height="0.3" fill="#0f9a8c"/>
<rect x="845.01" y="572.3" width="2.1" height="3.3" fill="#dd0f4f"/>
<rect x="847.81" y="572.3" width="2.1" height="9.4" fill="#dd0f4f"/>
<rect x="850.61" y="572.3" width="2.1" height="16.9" fill="#dd0f4f"/>
<rect x="853.41" y="572.3" width="2.1" height="16.1" fill="#dd0f4f"/>
<rect x="861.82" y="572.3" width="2.1" height="11.2" fill="#dd0f4f"/>
<rect x="864.62" y="572.3" width="2.1" height="9.6" fill="#dd0f4f"/>
<rect x="867.42" y="572.3" width="2.1" height="8.8" fill="#dd0f4f"/>
<rect x="870.22" y="572.3" width="2.1" height="12.2" fill="#dd0f4f"/>
<rect x="873.03" y="572.3" width="2.1" height="14.3" fill="#dd0f4f"/>
<rect x="884.23" y="572.3" width="2.1" height="14.3" fill="#dd0f4f"/>
<rect x="887.04" y="572.3" width="2.1" height="11.7" fill="#dd0f4f"/>
<rect x="889.84" y="572.3" width="2.1" height="10.1" fill="#dd0f4f"/>
<rect x="892.64" y="572.3" width="2.1" height="6.2" fill="#dd0f4f"/>
<rect x="901.05" y="572.3" width="2.1" height="5.6" fill="#dd0f4f"/>
<rect x="903.85" y="572.3" width="2.1" height="2.5" fill="#dd0f4f"/>
<rect x="906.65" y="569.9" width="2.1" height="2.4" fill="#0f9a8c"/>
<rect x="909.45" y="569.3" width="2.1" height="3.0" fill="#0f9a8c"/>
<rect x="912.25" y="571.2" width="2.1" height="1.1" fill="#0f9a8c"/>
<rect x="920.66" y="571.1" width="2.1" height="1.2" fill="#0f9a8c"/>
<rect x="923.46" y="572.3" width="2.1" height="1.0" fill="#dd0f4f"/>
<rect x="926.26" y="571.4" width="2.1" height="0.9" fill="#0f9a8c"/>
<rect x="929.07" y="571.1" width="2.1" height="1.2" fill="#0f9a8c"/>
<rect x="931.87" y="572.3" width="2.1" height="1.4" fill="#dd0f4f"/>
<rect x="943.08" y="571.4" width="2.1" height="0.9" fill="#0f9a8c"/>
<rect x="945.88" y="570.4" width="2.1" height="1.9" fill="#0f9a8c"/>
<rect x="948.68" y="572.3" width="2.1" height="1.2" fill="#dd0f4f"/>
<rect x="951.48" y="572.3" width="2.1" height="5.2" fill="#dd0f4f"/>
<rect x="959.89" y="572.3" width="2.1" height="4.6" fill="#dd0f4f"/>
<rect x="962.69" y="572.3" width="2.1" height="2.3" fill="#dd0f4f"/>
<rect x="965.49" y="572.3" width="2.1" height="4.2" fill="#dd0f4f"/>
<rect x="968.29" y="572.3" width="2.1" height="5.4" fill="#dd0f4f"/>
<rect x="971.10" y="572.3" width="2.1" height="10.7" fill="#dd0f4f"/>
<rect x="979.50" y="572.3" width="2.1" height="9.3" fill="#dd0f4f"/>
<rect x="982.30" y="572.3" width="2.1" height="9.9" fill="#dd0f4f"/>
<rect x="985.11" y="572.3" width="2.1" height="7.1" fill="#dd0f4f"/>
<rect x="987.91" y="572.3" width="2.1" height="11.2" fill="#dd0f4f"/>
<rect x="990.71" y="572.3" width="2.1" height="17.1" fill="#dd0f4f"/>
<rect x="999.12" y="572.3" width="2.1" height="21.0" fill="#dd0f4f"/>
</g>
<polyline points="109.4,488.5 117.8,482.1 120.6,477.7 123.4,474.3 126.2,473.2 129.0,473.6 140.2,473.7 143.0,474.8 145.8,476.3 148.6,477.5 157.0,479.2 159.8,480.6 162.6,482.2 165.4,484.1 168.2,485.4 176.6,486.9 179.4,487.8 182.2,489.2 185.0,491.1 187.8,493.0 196.2,495.4 199.0,497.9 201.8,500.3 207.4,503.7 215.9,506.7 218.7,508.5 221.5,509.8 224.3,510.2 227.1,510.0 235.5,509.2 238.3,508.7 241.1,508.0 243.9,507.4 255.1,506.6 257.9,506.4 260.7,506.1 263.5,505.8 266.3,505.8 274.7,506.6 277.5,507.0 280.3,507.3 283.1,507.6 285.9,507.9 294.3,508.1 297.1,508.4 299.9,508.9 302.7,509.1 305.5,509.4 313.9,510.0 316.7,510.7 319.5,511.6 322.3,512.8 325.1,514.6 333.5,517.9 336.3,519.9 339.1,521.8 341.9,523.5 344.8,524.3 353.1,525.3 356.0,524.9 358.8,523.9 361.6,523.0 364.4,522.1 372.8,522.0 375.6,522.5 378.4,524.5 381.2,526.7 384.0,529.0 392.4,532.1 395.2,533.4 398.0,534.6 400.8,535.8 403.6,536.7 414.8,538.8 417.6,540.3 420.4,541.7 423.2,542.2 431.6,542.6 434.4,542.1 437.2,541.6 440.0,540.6 442.8,539.6 451.2,537.2 454.0,535.1 456.8,533.0 459.6,530.8 462.4,528.8 470.8,525.6 473.6,523.6 476.4,522.0 479.2,521.4 482.1,521.2 490.4,521.8 493.2,521.8 496.1,521.8 498.9,521.6 501.7,521.5 510.1,521.1 512.9,521.1 515.7,521.1 518.5,521.5 521.3,523.0 529.7,525.8 532.5,528.4 535.3,531.0 538.1,533.8 540.9,536.5 549.3,538.4 552.1,539.2 554.9,540.1 557.7,541.0 560.5,540.7 568.9,538.9 571.7,535.4 574.5,531.9 577.3,529.0 580.1,526.1 588.5,523.0 591.3,522.0 594.1,521.6 596.9,523.8 599.7,525.9 608.1,528.6 610.9,530.7 613.7,533.1 616.5,536.2 619.3,539.3 627.8,544.2 630.5,550.1 633.4,556.3 636.2,563.7 639.0,570.2 647.4,575.8 650.2,578.3 653.0,578.7 658.6,577.9 667.0,575.6 669.8,573.6 672.6,570.6 675.4,567.7 678.2,565.0 686.6,561.0 689.4,557.9 692.2,555.0 695.0,553.1 697.8,552.6 706.2,553.8 709.0,555.5 711.8,558.3 714.6,560.3 717.4,562.0 725.8,563.0 728.6,562.4 731.4,561.8 737.0,560.9 745.4,559.7 748.2,559.1 751.0,559.5 756.6,560.2 765.0,561.4 767.9,560.8 770.6,560.1 773.5,559.7 776.3,559.3 784.7,558.5 787.5,557.5 790.3,557.0 793.1,557.0 795.9,557.2 807.1,559.7 809.9,561.7 812.7,563.1 815.5,564.1 823.9,564.8 826.7,564.0 829.5,562.6 832.3,561.6 835.1,561.3 843.5,561.4 846.3,562.7 849.1,565.5 851.9,569.0 854.7,572.7 863.1,576.5 865.9,578.6 868.7,580.8 871.5,583.8 874.3,587.3 885.5,591.2 888.3,593.9 891.1,596.3 893.9,597.5 902.4,599.3 905.1,599.5 908.0,598.4 910.8,597.8 913.5,597.4 922.0,597.1 924.8,596.8 927.6,596.6 930.4,596.9 933.2,597.1 941.6,597.0 944.4,596.6 947.2,596.3 950.0,596.8 952.8,597.7 961.2,598.8 964.0,599.3 966.8,600.6 969.6,602.2 972.4,604.5 980.8,607.2 983.6,609.5 986.4,611.7 989.2,614.6 992.0,619.0 1000.4,623.8" fill="none" stroke="#1a5ccc" stroke-width="1.2" stroke-linejoin="round"/>
<polyline points="109.4,459.9 117.8,457.1 120.6,457.9 123.4,462.4 126.2,467.6 129.0,474.4 140.2,475.2 143.0,478.1 145.8,480.8 148.6,484.2 157.0,486.5 159.8,486.9 162.6,487.6 165.4,491.6 168.2,491.8 176.6,492.5 179.4,492.1 182.2,494.4 185.0,496.7 187.8,502.2 196.2,503.8 199.0,508.0 201.8,511.4 207.4,516.5 215.9,519.0 218.7,517.1 221.5,515.4 224.3,512.5 227.1,509.3 235.5,506.2 238.3,506.8 241.1,505.6 243.9,503.2 255.1,504.2 257.9,505.0 260.7,504.9 263.5,504.7 266.3,505.5 274.7,507.8 277.5,508.7 280.3,509.6 283.1,509.4 285.9,509.1 294.3,508.8 297.1,510.5 299.9,510.6 302.7,510.9 305.5,510.9 313.9,511.4 316.7,513.0 319.5,515.1 322.3,517.1 325.1,525.1 333.5,527.5 336.3,530.7 339.1,530.5 341.9,529.9 344.8,527.6 353.1,527.6 356.0,523.5 358.8,520.5 361.6,518.8 364.4,519.4 372.8,520.3 375.6,525.3 378.4,532.0 381.2,538.2 384.0,538.4 392.4,540.7 395.2,540.4 398.0,540.0 400.8,539.1 403.6,541.4 414.8,546.5 417.6,547.6 420.4,546.1 423.2,545.2 431.6,543.8 434.4,541.2 437.2,540.0 440.0,537.3 442.8,534.5 451.2,529.5 454.0,526.7 456.8,525.5 459.6,522.8 462.4,519.0 470.8,514.2 473.6,514.5 476.4,516.1 479.2,519.5 482.1,521.2 490.4,522.1 493.2,522.2 496.1,521.8 498.9,521.1 501.7,521.5 510.1,520.3 512.9,522.2 515.7,521.1 518.5,521.0 521.3,531.4 529.7,534.9 532.5,539.6 535.3,541.7 538.1,545.0 540.9,546.6 549.3,544.3 552.1,543.1 554.9,544.7 557.7,544.3 560.5,540.7 568.9,532.5 571.7,523.3 574.5,516.2 577.3,516.0 580.1,514.8 588.5,512.2 591.3,517.8 594.1,520.5 596.9,529.7 599.7,536.8 608.1,537.2 610.9,538.0 613.7,540.8 616.5,549.5 619.3,555.7 627.8,563.5 630.5,573.8 633.4,580.0 636.2,591.9 639.0,597.6 647.4,594.8 650.2,588.9 653.0,582.1 658.6,575.2 667.0,570.0 669.8,564.9 672.6,559.8 675.4,555.8 678.2,552.4 686.6,548.8 689.4,546.8 692.2,544.2 695.0,544.1 697.8,549.4 706.2,555.2 709.0,559.9 711.8,569.2 714.6,571.2 717.4,569.4 725.8,566.5 728.6,562.4 731.4,559.3 737.0,556.9 745.4,556.6 748.2,557.2 751.0,559.8 756.6,562.5 765.0,563.7 767.9,560.8 770.6,559.1 773.5,559.1 776.3,557.2 784.7,554.7 787.5,553.5 790.3,555.8 793.1,557.0 795.9,558.2 807.1,567.0 809.9,570.1 812.7,569.5 815.5,568.5 823.9,566.8 826.7,562.6 829.5,558.3 832.3,557.6 835.1,560.2 843.5,561.1 846.3,566.0 849.1,574.9 851.9,585.9 854.7,588.8 863.1,587.6 865.9,588.2 868.7,589.6 871.5,596.1 874.3,601.6 885.5,605.6 888.3,605.6 891.1,606.4 893.9,603.8 902.4,604.9 905.1,602.0 908.0,595.9 910.8,594.8 913.5,596.3 922.0,595.9 924.8,597.8 927.6,595.8 930.4,595.7 933.2,598.5 941.6,597.0 944.4,595.7 947.2,594.4 950.0,598.0 952.8,602.9 961.2,603.3 964.0,601.6 966.8,604.8 969.6,607.6 972.4,615.1 980.8,616.5 983.6,619.4 986.4,618.8 989.2,625.8 992.0,636.0 1000.4,644.9" fill="none" stroke="#3d0f0f" stroke-width="1.2" stroke-linejoin="round"/>
<line x1="63.5" x2="1046.3" y1="448.0" y2="448.0" stroke="#d8caa3" stroke-width="1.5"/>
<line x1="63.5" x2="63.5" y1="448.0" y2="654.9" stroke="#386a9c" stroke-width="1.0"/>
<line x1="63.0" x2="1046.3" y1="654.4" y2="654.4" stroke="#386a9c" stroke-width="1.0"/>
<g stroke="#3e6f9f" stroke-width="0.6">
<line x1="66.9" x2="66.9" y1="654.4" y2="656.6999999999999"/>
<line x1="153.8" x2="153.8" y1="654.4" y2="656.6999999999999"/>
<line x1="237.8" x2="237.8" y1="654.4" y2="656.6999999999999"/>
<line x1="324.7" x2="324.7" y1="654.4" y2="656.6999999999999"/>
<line x1="411.5" x2="411.5" y1="654.4" y2="656.6999999999999"/>
<line x1="495.6" x2="495.6" y1="654.4" y2="656.6999999999999"/>
<line x1="582.5" x2="582.5" y1="654.4" y2="656.6999999999999"/>
<line x1="666.5" x2="666.5" y1="654.4" y2="656.6999999999999"/>
<line x1="753.4" x2="753.4" y1="654.4" y2="656.6999999999999"/>
<line x1="840.3" x2="840.3" y1="654.4" y2="656.6999999999999"/>
<line x1="918.7" x2="918.7" y1="654.4" y2="656.6999999999999"/>
<line x1="1005.6" x2="1005.6" y1="654.4" y2="656.6999999999999"/>
<line x1="61.2" x2="63.5" y1="472.4" y2="472.4"/>
<line x1="61.2" x2="63.5" y1="505.7" y2="505.7"/>
<line x1="61.2" x2="63.5" y1="539.0" y2="539.0"/>
<line x1="61.2" x2="63.5" y1="572.3" y2="572.3"/>
<line x1="61.2" x2="63.5" y1="605.6" y2="605.6"/>
<line x1="61.2" x2="63.5" y1="638.9" y2="638.9"/>
</g>
<g fill="#0d3b5e" stroke="#0d3b5e" stroke-width="0.25" font-size="14.7px" text-anchor="end">
<text x="59.1" y="478.0">600</text>
<text x="59.1" y="511.3">400</text>
<text x="59.1" y="544.6">200</text>
<text x="59.1" y="577.9">0</text>
<text x="59.1" y="611.2">−200</text>
<text x="59.1" y="644.5">−400</text>
</g>
<g fill="#0d3b5e" stroke="#0d3b5e" stroke-width="0.25" font-size="14.7px" text-anchor="middle">
<text x="66.9" y="669.9">2025-05</text>
<text x="153.8" y="669.9">2025-06</text>
<text x="237.8" y="669.9">2025-07</text>
<text x="324.7" y="669.9">2025-08</text>
<text x="411.5" y="669.9">2025-09</text>
<text x="495.6" y="669.9">2025-10</text>
<text x="582.5" y="669.9">2025-11</text>
<text x="666.5" y="669.9">2025-12</text>
<text x="753.4" y="669.9">2026-01</text>
<text x="840.3" y="669.9">2026-02</text>
<text x="918.7" y="669.9">2026-03</text>
<text x="1005.6" y="669.9">2026-04</text>
</g>
<rect x="915.4" y="454.1" width="125.2" height="38.4" rx="2.5" fill="#fff" fill-opacity="0.8" stroke="#d9d9d9" stroke-width="0.9"/>
<line x1="920" x2="944.1" y1="463.4" y2="463.4" stroke="#3d0f0f" stroke-width="1.2"/>
<line x1="920" x2="944.1" y1="480.8" y2="480.8" stroke="#1a5ccc" stroke-width="1.2"/>
<text x="953.6" y="467.6" font-size="11.5px" fill="#0d3b5e">MACD</text>
<text x="953.6" y="484.9" font-size="11.5px" fill="#0d3b5e">MACD SIGNAL</text>
</svg>
</body>
</html>
